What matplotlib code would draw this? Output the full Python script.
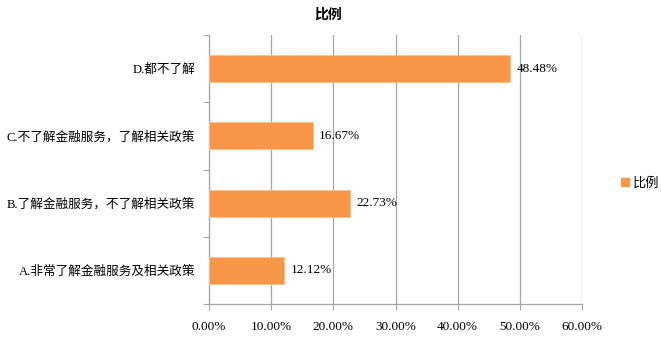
import matplotlib
matplotlib.use("Agg")
import matplotlib.pyplot as plt
from matplotlib.ticker import FuncFormatter, FixedLocator
from matplotlib.lines import Line2D

plt.rcParams['font.family'] = ['Liberation Serif', 'Noto Sans CJK SC']

# data
categories = ['A.非常了解金融服务及相关政策', 'B.了解金融服务，不了解相关政策',
              'C.不了解金融服务，了解相关政策', 'D.都不了解']
values = [12.12, 22.73, 16.67, 48.48]
series_name = '比例'

bar_color = '#F79646'
grid_color = '#A6A6A6'

fig = plt.figure(figsize=(6.61, 3.37), dpi=100)
ax = fig.add_axes([0.3162, 0.0979, 0.5643, 0.798])

pos = list(range(len(categories)))
ax.barh(pos, values, height=0.4, color=bar_color, edgecolor='#FAC090', linewidth=0.6, zorder=3)

for p, v in zip(pos, values):
    ax.text(v + 1.0, p, '%.2f%%' % v, va='center', ha='left', fontsize=9.5, zorder=4)

ax.set_xlim(0, 60)
ax.set_ylim(-0.5, len(categories) - 0.5)
ax.set_xticks(range(0, 61, 10))
ax.xaxis.set_major_formatter(FuncFormatter(lambda x, _: '%.2f%%' % x))
ax.set_yticks(pos)
ax.set_yticklabels(categories)
ax.yaxis.set_minor_locator(FixedLocator([i - 0.5 for i in range(len(categories) + 1)]))

ax.tick_params(axis='y', which='major', length=0, pad=10, labelsize=9.1)
ax.tick_params(axis='y', which='minor', length=4, color=grid_color, width=0.8)
ax.tick_params(axis='x', which='major', length=4, color=grid_color, width=0.8, pad=8, labelsize=9.5)

ax.grid(axis='x', color=grid_color, linewidth=0.9, zorder=0)
for side in ['top', 'right']:
    ax.spines[side].set_visible(False)
for side in ['left', 'bottom']:
    ax.spines[side].set_color(grid_color)
    ax.spines[side].set_linewidth(0.9)

fig.text(0.496, 0.955, series_name, ha='center', va='center', fontsize=10, fontweight='bold')

handle = Line2D([], [], marker='s', color=bar_color, linestyle='none', markersize=6)
fig.legend([handle], [series_name], loc='center left', bbox_to_anchor=(0.925, 0.455),
           frameon=False, fontsize=9.5, handletextpad=0.1, handlelength=1.0, borderpad=0)

fig.savefig('out.png', dpi=100)
